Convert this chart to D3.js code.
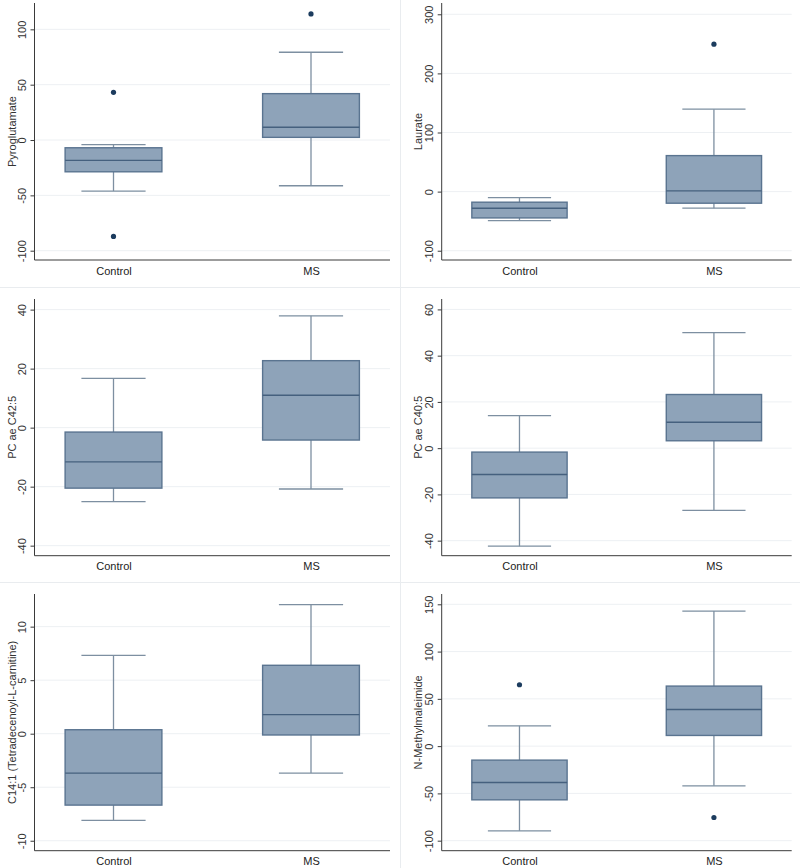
<!DOCTYPE html>
<html>
<head>
<meta charset="utf-8">
<script src="https://cdn.jsdelivr.net/npm/d3@7"></script>
<style>
  html, body { margin: 0; padding: 0; background: #fff; }
  svg { display: block; font-family: "Liberation Sans", Arial, sans-serif; }
</style>
</head>
<body>
<svg id="chart" width="800" height="868"></svg>
<script>
// ---- data ----
const categories = ["Control", "MS"];
const metabolites = ["Pyroglutamate", "Laurate", "PC ae C42:5", "PC ae C40:5",
  "C14:1 (Tetradecenoyl-L-carnitine)", "N-Methylmaleimide"];
// [lower whisker, Q1, median, Q3, upper whisker]
const controlStats = [
  [-46.1, -28.7, -18.4, -7.0, -4.2],
  [-49.0, -44.5, -28.1, -17.9, -10.2],
  [-25.1, -20.5, -11.6, -1.5, 16.7],
  [-42.4, -21.5, -11.4, -1.7, 14.1],
  [-8.1, -6.67, -3.68, 0.37, 7.32],
  [-89.6, -56.8, -38.4, -14.8, 21.5]
];
const msStats = [
  [-41.3, 2.4, 11.5, 41.9, 79.3],
  [-28.1, -19.6, 1.2, 60.9, 139.4],
  [-20.8, -4.2, 11.0, 22.7, 37.9],
  [-26.9, 3.2, 11.2, 23.2, 50.0],
  [-3.68, -0.12, 1.78, 6.39, 12.06],
  [-42.0, 11.3, 38.8, 63.5, 142.8]
];
const controlOutliers = [[43.1, -87.1], [], [], [], [], [64.9]];
const msOutliers = [[113.9], [249.4], [], [], [], [-75.5]];
const yTicks = [
  [-100, -50, 0, 50, 100],
  [-100, 0, 100, 200, 300],
  [-40, -20, 0, 20, 40],
  [-40, -20, 0, 20, 40, 60],
  [-10, -5, 0, 5, 10],
  [-100, -50, 0, 50, 100, 150]
];
const yDomains = [
  [-108.4, 123.8],
  [-115.7, 319.1],
  [-43.4, 43.6],
  [-46.5, 64.5],
  [-10.93, 13.05],
  [-110.6, 160.9]
];

// ---- layout ----
const colLeft = [34.5, 441.7];
const colRight = [390, 791.7];
const colOrigin = [0, 400];
const rowTop = [3, 299, 594];
const rowBottom = [260, 555.7, 850.7];

const svg = d3.select("#chart");

// faint panel separators
const sep = svg.append("g").attr("stroke", "#e9ecef").attr("stroke-width", 1);
sep.append("line").attr("x1", 400.5).attr("x2", 400.5).attr("y1", 0).attr("y2", 868);
[287.5, 582.5].forEach(y => sep.append("line").attr("x1", 0).attr("x2", 800).attr("y1", y).attr("y2", y));

const fillColor = "#8ea3b9";
const boxStroke = "#5a7490";
const medianColor = "#45607e";
const whiskerColor = "#7d8fa1";
const dotColor = "#1c3c5e";

metabolites.forEach((name, i) => {
  const col = i % 2, row = Math.floor(i / 2);
  const x0 = colLeft[col], x1 = colRight[col];
  const yT = rowTop[row], yB = rowBottom[row];

  const x = d3.scalePoint().domain(categories).range([x0, x1]).padding(0.4);
  const y = d3.scaleLinear().domain(yDomains[i]).range([yB, yT]);
  const step = x.step();
  const bw = step * 0.49, cw = step * 0.325;

  const g = svg.append("g");

  // gridlines
  g.append("g").selectAll("line").data(yTicks[i]).join("line")
    .attr("x1", x0).attr("x2", x1)
    .attr("y1", d => y(d)).attr("y2", d => y(d))
    .attr("stroke", "#edf0f3").attr("stroke-width", 1);

  // y axis
  const yAxis = g.append("g").attr("transform", `translate(${x0},0)`)
    .call(d3.axisLeft(y).tickValues(yTicks[i]).tickSize(4).tickPadding(6).tickFormat(d => String(d)));
  yAxis.select(".domain").attr("stroke", "#3a3a3a").attr("d", `M0,${yT}V${yB}`);
  yAxis.selectAll(".tick line").attr("stroke", "#3a3a3a");
  yAxis.selectAll(".tick text")
    .attr("font-size", 11).attr("fill", "#333")
    .attr("x", 0).attr("dy", 0)
    .attr("text-anchor", "middle")
    .attr("transform", "translate(-9,0) rotate(-90)");

  // x axis
  const xAxis = g.append("g").attr("transform", `translate(0,${yB})`)
    .call(d3.axisBottom(x).tickSize(0).tickPadding(0));
  xAxis.select(".domain").attr("stroke", "#3a3a3a").attr("d", `M${x0},0H${x1}`);
  xAxis.selectAll(".tick text").attr("font-size", 11).attr("fill", "#222")
    .attr("dy", 0).attr("y", 14.5);

  // y title
  g.append("text")
    .attr("transform", `translate(${colOrigin[col] + (col === 0 ? 15.5 : 21.5)},${(yT + yB) / 2}) rotate(-90)`)
    .attr("text-anchor", "middle").attr("font-size", 11).attr("fill", "#333")
    .text(name);

  const groups = [
    { cat: categories[0], s: controlStats[i], out: controlOutliers[i] },
    { cat: categories[1], s: msStats[i], out: msOutliers[i] }
  ];

  groups.forEach(d => {
    const cx = x(d.cat);
    const [lo, q1, med, q3, hi] = d.s;
    const wg = g.append("g").attr("stroke", whiskerColor).attr("stroke-width", 1.3);
    wg.append("line").attr("x1", cx).attr("x2", cx).attr("y1", y(hi)).attr("y2", y(q3));
    wg.append("line").attr("x1", cx).attr("x2", cx).attr("y1", y(q1)).attr("y2", y(lo));
    wg.append("line").attr("x1", cx - cw / 2).attr("x2", cx + cw / 2).attr("y1", y(hi)).attr("y2", y(hi));
    wg.append("line").attr("x1", cx - cw / 2).attr("x2", cx + cw / 2).attr("y1", y(lo)).attr("y2", y(lo));

    g.append("rect")
      .attr("x", cx - bw / 2).attr("width", bw)
      .attr("y", y(q3)).attr("height", y(q1) - y(q3))
      .attr("fill", fillColor).attr("stroke", boxStroke).attr("stroke-width", 1.4);
    g.append("line")
      .attr("x1", cx - bw / 2).attr("x2", cx + bw / 2)
      .attr("y1", y(med)).attr("y2", y(med))
      .attr("stroke", medianColor).attr("stroke-width", 1.4);

    g.append("g").selectAll("circle").data(d.out).join("circle")
      .attr("cx", cx).attr("cy", v => y(v)).attr("r", 2.6)
      .attr("fill", dotColor);
  });
});
</script>
</body>
</html>
